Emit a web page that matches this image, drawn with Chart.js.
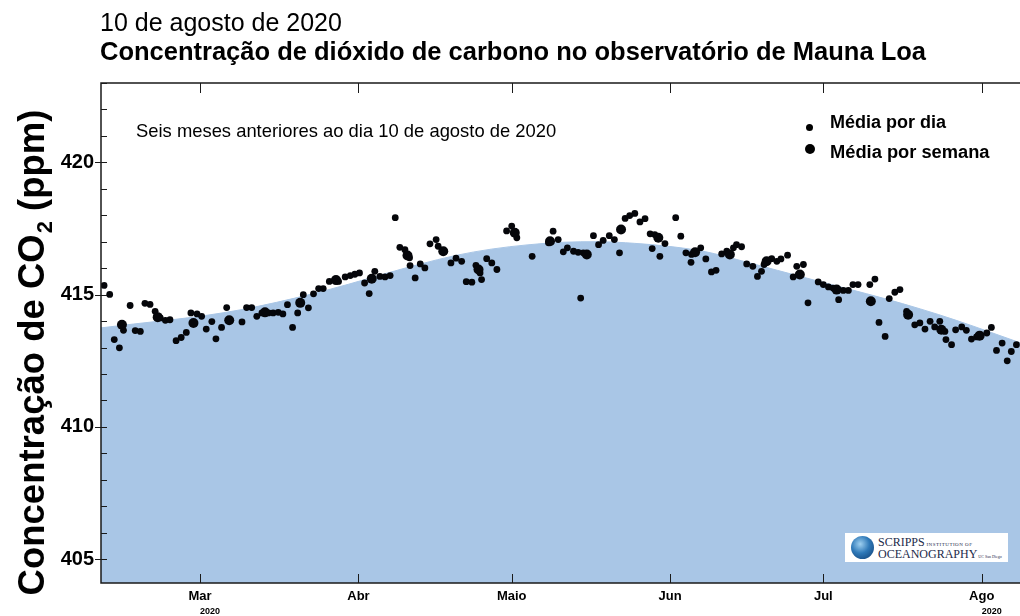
<!DOCTYPE html>
<html>
<head>
<meta charset="utf-8">
<script src="https://cdn.jsdelivr.net/npm/chart.js@4.4.0/dist/chart.umd.min.js"></script>
<style>
body { margin: 0; background: #fff; font-family: "Liberation Sans", Arial, Helvetica, sans-serif; }
#wrap { position: relative; width: 1020px; height: 616px; overflow: hidden; }
#co2chart { position: absolute; left: 0; top: 0; }
.txt { position: absolute; white-space: nowrap; line-height: 1; color: #000; }
.dot { position: absolute; background: #000; border-radius: 50%; }
#logo { position: absolute; left: 845px; top: 533px; width: 163px; height: 29px; background: #fff; }
#globe { position: absolute; left: 6px; top: 3px; width: 23px; height: 23px; border-radius: 50%;
  background: radial-gradient(circle at 40% 35%, #9fd0f0 0%, #2f79b8 45%, #0d3a6e 100%); }
.serif { font-family: "Liberation Serif", "DejaVu Serif", serif; color: #1b2a4a; }
</style>
</head>
<body>
<div id="wrap">
  <canvas id="co2chart" width="1020" height="616"></canvas>
  <div class="txt" style="left:100px;top:10px;font-size:25px;">10 de agosto de 2020</div>
  <div class="txt" style="left:100px;top:39px;font-size:25.5px;font-weight:bold;">Concentração de dióxido de carbono no observatório de Mauna Loa</div>
  <div class="txt" style="left:136px;top:122px;font-size:18.4px;">Seis meses anteriores ao dia 10 de agosto de 2020</div>
  <div class="dot" style="left:806px;top:124px;width:7px;height:7px;"></div>
  <div class="txt" style="left:830px;top:113px;font-size:18px;font-weight:bold;">Média por dia</div>
  <div class="dot" style="left:805px;top:144px;width:10px;height:10px;"></div>
  <div class="txt" style="left:830px;top:143px;font-size:18.3px;font-weight:bold;">Média por semana</div>
  <div id="logo">
    <div id="globe"></div>
    <div class="txt serif" style="left:33px;top:3px;font-size:12px;">SCRIPPS<span style="font-size:5px;letter-spacing:0.5px;"> INSTITUTION OF</span></div>
    <div class="txt serif" style="left:33px;top:15px;font-size:12px;">OCEANOGRAPHY<span style="font-size:4px;"> UC San Diego</span></div>
  </div>
</div>
<script>
// day of year 2020 (1 = 1 Jan)
var monthDays = [61, 92, 122, 153, 183, 214];
var monthLabels = ["Mar", "Abr", "Maio", "Jun", "Jul", "Ago"];
var yearLabels = ["2020", "", "", "", "", "2020"];

// daily means (ppm)
var dailyDays = [42.2, 43.3, 44.2, 45.2, 46.0, 47.3, 48.3, 49.3, 50.2, 51.2, 52.2, 53.2, 54.2, 55.1, 56.3, 57.3, 58.3, 59.2, 60.4,
  61.3, 62.2, 63.3, 64.1, 65.2, 66.2, 69.2, 70.1, 71.1, 72.1, 73.1, 74.4, 75.3, 76.3, 77.2, 78.1, 79.1, 80.1, 81.2, 82.2,
  83.2, 84.2, 85.1, 86.3, 87.4, 88.1, 89.4, 90.4, 91.3, 92.2, 93.2, 94.1, 95.2, 96.2, 97.2, 98.2, 99.2, 100.1, 101.1, 102.0,
  102.1, 103.1, 104.1, 105.0, 106.0, 107.2, 107.6, 110.1, 111.1, 112.2, 113.1, 114.2, 115.0, 115.8, 116.1, 117.1, 118.1, 119.1,
  121.0, 122.0, 123.0, 126.0, 129.2, 130.1, 131.1, 132.1, 132.9, 134.1, 135.0, 135.5, 136.0, 138.0, 139.0, 139.9, 141.1, 142.1,
  143.1, 144.2, 145.1, 146.1, 147.1, 148.1, 149.1, 149.5, 150.0, 151.0, 152.0, 154.1, 155.1, 156.1, 157.1, 157.2, 159.0, 160.0,
  161.1, 162.0, 163.1, 164.1, 165.4, 166.0, 167.0, 168.0, 169.2, 170.1, 170.9, 171.4, 172.9, 173.9, 174.7, 176.0, 177.1, 177.8,
  179.1, 180.0, 182.0, 183.0, 184.0, 184.9, 186.0, 186.9, 187.9, 188.8, 189.8, 192.1, 193.1, 193.9, 195.1, 195.9, 197.0, 198.0,
  199.3, 200.9, 201.9, 202.9, 203.9, 204.8, 205.8, 206.8, 207.0, 208.1, 208.9, 210.1, 211.0, 212.0, 213.0, 215.0, 215.9, 216.9,
  218.0, 219.0, 219.8, 220.8];
var dailyCO2 = [415.35, 415.01, 413.30, 412.99, 413.65, 414.59, 413.64, 413.61, 414.67, 414.63, 414.37, 414.12, 414.03, 414.05, 413.26, 413.38, 413.57, 414.31, 414.27,
  414.18, 413.70, 413.98, 413.33, 413.76, 414.51, 413.97, 414.51, 414.51, 414.18, 414.31, 414.31, 414.31, 414.33, 414.27, 414.62, 413.76, 414.31, 415.00, 414.50,
  415.03, 415.23, 415.23, 415.50, 415.57, 415.50, 415.67, 415.72, 415.77, 415.82, 415.44, 415.04, 415.88, 415.69, 415.67, 415.72, 417.91, 416.79, 416.70, 416.39,
  416.10, 415.63, 416.16, 416.01, 416.92, 417.08, 416.83, 416.20, 416.38, 416.26, 415.49, 415.47, 416.11, 415.82, 415.57, 416.36, 416.20, 415.95,
  417.41, 417.59, 417.15, 416.45, 416.96, 417.40, 417.08, 416.62, 416.77, 416.64, 416.60, 414.87, 416.58, 417.23, 416.89, 417.05, 417.23, 417.08,
  416.58, 417.88, 417.99, 418.07, 417.75, 417.87, 417.30, 416.74, 417.27, 416.45, 416.93, 417.91, 417.21, 416.58, 416.22, 416.52, 416.77, 416.35,
  415.86, 415.92, 416.54, 416.64, 416.77, 416.89, 416.81, 416.16, 416.07, 415.69, 415.88, 416.14, 416.36, 416.26, 416.35, 416.49, 415.67, 416.07,
  416.14, 414.69, 415.48, 415.38, 415.29, 415.25, 414.81, 415.16, 415.16, 415.38, 415.38, 415.38, 415.59, 413.95, 413.42, 414.85, 415.09, 415.19,
  414.37, 413.86, 413.93, 413.70, 413.99, 413.78, 413.99, 413.61, 413.30, 413.11, 413.67, 413.78, 413.65, 413.32, 413.40, 413.55, 413.76, 412.89,
  413.17, 412.50, 412.85, 413.11];

// weekly means (ppm)
var weeklyDays = [45.7, 52.7, 59.7, 66.7, 73.7, 80.6, 87.6, 94.6, 101.6, 108.6, 115.5, 122.6, 129.5, 136.7, 143.4, 150.7, 157.9,
  164.7, 171.9, 178.4, 185.6, 192.3, 199.6, 206.1, 213.6];
var weeklyCO2 = [413.86, 414.15, 413.93, 414.03, 414.33, 414.69, 415.55, 415.60, 416.48, 416.64, 415.95, 417.34, 417.02, 416.52, 417.46, 417.15, 416.60,
  416.52, 416.26, 415.76, 415.19, 414.75, 414.24, 413.67, 413.45];

// smoothed seasonal curve (shaded area)
var trendDays = [41, 48, 55, 62, 69, 76, 83, 90, 97, 104, 111, 118, 125, 132, 139, 146, 153, 160, 167, 174, 181, 188, 195, 202, 209, 216, 223];
var trendCO2 = [413.73, 413.89, 414.04, 414.21, 414.43, 414.71, 415.03, 415.39, 415.78, 416.15, 416.48, 416.72, 416.88, 416.98, 417.00,
  416.94, 416.82, 416.62, 416.28, 415.92, 415.56, 415.21, 414.85, 414.46, 414.03, 413.56, 413.08];

function toPoints(xs, ys) {
    return xs.map(function (d, i) { return { x: d, y: ys[i] }; });
}

var sansBold = '"Liberation Sans Narrow", "Liberation Sans", Arial, sans-serif';

var framePlugin = {
    id: "frame",
    afterDatasetsDraw: function (chart) {
        var ctx = chart.ctx, a = chart.chartArea, x = chart.scales.x, y = chart.scales.y;
        ctx.save();
        ctx.strokeStyle = "#1a1a1a";
        ctx.lineWidth = 1.5;
        ctx.beginPath();
        ctx.moveTo(a.right, a.top);
        ctx.lineTo(a.left, a.top);
        ctx.lineTo(a.left, a.bottom);
        ctx.lineTo(a.right, a.bottom);
        ctx.stroke();
        ctx.lineWidth = 1;
        y.ticks.forEach(function (t) {
            var py = Math.round(y.getPixelForValue(t.value)) + 0.5;
            var major = t.value % 5 === 0;
            ctx.beginPath();
            ctx.moveTo(major ? a.left - 6 : a.left, py);
            ctx.lineTo(a.left + 6, py);
            ctx.stroke();
        });
        x.ticks.forEach(function (t) {
            var px = Math.round(x.getPixelForValue(t.value)) + 0.5;
            ctx.beginPath();
            ctx.moveTo(px, a.bottom);
            ctx.lineTo(px, a.bottom - 9);
            ctx.moveTo(px, a.top);
            ctx.lineTo(px, a.top + 10);
            ctx.stroke();
        });
        ctx.restore();
    },
    afterDraw: function (chart) {
        var ctx = chart.ctx, x = chart.scales.x;
        ctx.save();
        // year under first and last month
        ctx.fillStyle = "#000";
        ctx.font = "bold 9px " + sansBold;
        ctx.textAlign = "center";
        ctx.textBaseline = "alphabetic";
        monthDays.forEach(function (d, i) {
            if (yearLabels[i]) ctx.fillText(yearLabels[i], x.getPixelForValue(d) + 10, 614);
        });
        // y axis title with subscript
        ctx.translate(44, 353);
        ctx.rotate(-Math.PI / 2);
        var big = "bold 36.5px Liberation Sans, Arial, sans-serif";
        var small = "bold 22px Liberation Sans, Arial, sans-serif";
        var p1 = "Concentração de CO", p2 = "2", p3 = " (ppm)";
        ctx.font = big;
        var w1 = ctx.measureText(p1).width, w3 = ctx.measureText(p3).width;
        ctx.font = small;
        var w2 = ctx.measureText(p2).width;
        var sx = -(w1 + w2 + w3) / 2;
        ctx.textAlign = "left";
        ctx.font = big;
        ctx.fillText(p1, sx, 0);
        ctx.font = small;
        ctx.fillText(p2, sx + w1 + 1, 8);
        ctx.font = big;
        ctx.fillText(p3, sx + w1 + w2 + 1, 0);
        ctx.restore();
    }
};

new Chart("co2chart", {
    type: "scatter",
    data: {
        datasets: [{
            label: "Média por dia",
            data: toPoints(dailyDays, dailyCO2),
            backgroundColor: "#05060a",
            borderWidth: 0,
            pointRadius: 3.4,
            order: 2
        }, {
            label: "Média por semana",
            data: toPoints(weeklyDays, weeklyCO2),
            backgroundColor: "#05060a",
            borderWidth: 0,
            pointRadius: 5,
            order: 1
        }, {
            label: "curva",
            type: "line",
            data: toPoints(trendDays, trendCO2),
            fill: "start",
            backgroundColor: "#a9c6e6",
            borderColor: "#a9c6e6",
            borderWidth: 1,
            pointRadius: 0,
            cubicInterpolationMode: "monotone",
            order: 3
        }]
    },
    options: {
        responsive: false,
        animation: false,
        layout: { autoPadding: false, padding: { top: 83, left: 0, right: 0, bottom: 0 } },
        plugins: {
            legend: { display: false },
            tooltip: { enabled: false }
        },
        scales: {
            x: {
                type: "linear",
                min: 41.6,
                max: 221.5,
                afterBuildTicks: function (s) { s.ticks = monthDays.map(function (v) { return { value: v }; }); },
                afterFit: function (s) { s.height = 33; },
                grid: { display: false, drawTicks: false },
                border: { display: false },
                ticks: {
                    autoSkip: false,
                    maxRotation: 0,
                    padding: 6,
                    color: "#000",
                    font: { family: sansBold, size: 13, weight: "bold" },
                    callback: function (v, i) { return monthLabels[i]; }
                }
            },
            y: {
                min: 404.1,
                max: 423,
                afterBuildTicks: function (s) {
                    var t = [];
                    for (var v = 405; v <= 423; v++) t.push({ value: v });
                    s.ticks = t;
                },
                afterFit: function (s) { s.width = 101; },
                grid: { display: false, drawTicks: false },
                border: { display: false },
                ticks: {
                    padding: 7,
                    color: "#000",
                    font: { family: "Liberation Sans, Arial, sans-serif", size: 20, weight: "bold" },
                    callback: function (v) { return v % 5 === 0 ? v : ""; }
                }
            }
        }
    },
    plugins: [framePlugin]
});
</script>
</body>
</html>
